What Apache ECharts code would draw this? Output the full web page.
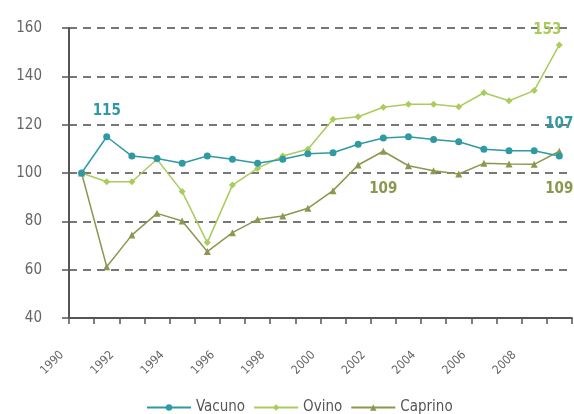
<!DOCTYPE html>
<html lang="es">
  <head>
    <meta charset="UTF-8" />
    <title>Vacuno, Ovino, Caprino</title>
    <style>
      html,
      body {
        margin: 0;
        background: #fff;
      }
      #main {
        width: 574px;
        height: 414px;
      }
    </style>
  </head>
  <body>
    <div id="main"></div>
    <script src="https://cdn.jsdelivr.net/npm/echarts@6/dist/echarts.min.js"></script>
    <script>
      // datos (indice 1990 = 100)
      const years = [
        "1990", "1991", "1992", "1993", "1994", "1995", "1996", "1997", "1998", "1999",
        "2000", "2001", "2002", "2003", "2004", "2005", "2006", "2007", "2008", "2009",
      ];
      const tickYears = ["1990", "1992", "1994", "1996", "1998", "2000", "2002", "2004", "2006", "2008"];
      const vacuno = [100, 115, 107, 106, 104, 107, 105.7, 104, 105.7, 108, 108.4, 111.9, 114.5, 115, 113.9, 112.9, 109.8, 109.2, 109.2, 107];
      const ovino = [100, 96.4, 96.4, 105.7, 92.3, 71.2, 95, 101.9, 107, 109.8, 122.2, 123.3, 127.2, 128.4, 128.4, 127.4, 133.2, 129.9, 134.1, 153];
      const caprino = [100, 61.2, 74.3, 83.3, 80.1, 67.5, 75.3, 80.8, 82.2, 85.4, 92.7, 103.3, 109, 103, 100.9, 99.6, 104, 103.7, 103.6, 109];

      const font = "'Liberation Sans Narrow', 'DejaVu Sans Condensed', 'Liberation Sans', sans-serif";
      const cVac = "#2f9aa3";
      const cOvi = "#a9cc5c";
      const cCap = "#8d974f";

      // etiquetas de valor en algunos puntos
      const withLabels = (values, color, marks) =>
        values.map((v, i) => {
          if (!marks[i]) return v;
          return {
            value: v,
            label: Object.assign(
              {
                show: true,
                formatter: "{c}",
                color: color,
                fontSize: 15,
                fontWeight: "bold",
                fontFamily: font,
              },
              marks[i]
            ),
          };
        });

      const chart = echarts.init(document.getElementById("main"));
      const option = {
        animation: false,
        textStyle: { fontFamily: font },
        grid: { left: 69, top: 28, width: 509, height: 290 },
        legend: {
          left: 141,
          top: 395,
          itemWidth: 44,
          itemHeight: 8,
          itemGap: 8,
          textStyle: { color: "#555", fontSize: 15, fontFamily: font },
          data: ["Vacuno", "Ovino", "Caprino"],
        },
        xAxis: [
          {
            type: "category",
            data: years,
            boundaryGap: true,
            axisLine: { lineStyle: { color: "#555", width: 2 } },
            axisTick: { inside: true, length: 6, lineStyle: { color: "#555", width: 1.5 } },
            axisLabel: { show: false },
          },
          {
            // eje solo para las marcas y etiquetas de los anos
            type: "category",
            position: "bottom",
            data: years.concat([""]),
            boundaryGap: false,
            axisLine: { show: false },
            axisTick: { length: 6, interval: 0, lineStyle: { color: "#555", width: 1.5 } },
            axisLabel: {
              interval: 0,
              rotate: 45,
              margin: 28,
              padding: [0, 10, 0, 0],
              fontSize: 12,
              color: "#666",
              formatter: (v) => (tickYears.includes(v) ? v : ""),
            },
          },
        ],
        yAxis: {
          type: "value",
          min: 40,
          max: 160,
          interval: 20,
          axisLine: { show: true, lineStyle: { color: "#555", width: 2 } },
          axisTick: { show: true, length: 7, lineStyle: { color: "#555", width: 1.5 } },
          axisLabel: { margin: 27, fontSize: 15, color: "#666" },
          splitLine: {
            lineStyle: { color: "#777", width: 2, type: [8, 6] },
          },
        },
        series: [
          {
            name: "Vacuno",
            type: "line",
            data: withLabels(vacuno, cVac, {
              1: { position: "top", distance: 15 },
              19: { position: "top", distance: 21 },
            }),
            symbol: "circle",
            symbolSize: 7,
            lineStyle: { color: cVac, width: 1.5 },
            itemStyle: { color: cVac },
            z: 3,
          },
          {
            name: "Ovino",
            type: "line",
            data: withLabels(ovino, cOvi, {
              19: { position: "top", distance: 4, offset: [-12, 0] },
            }),
            symbol: "diamond",
            symbolSize: 7,
            lineStyle: { color: cOvi, width: 1.5 },
            itemStyle: { color: cOvi },
            z: 2,
          },
          {
            name: "Caprino",
            type: "line",
            data: withLabels(caprino, cCap, {
              12: { position: "bottom", distance: 27 },
              19: { position: "bottom", distance: 27 },
            }),
            symbol: "triangle",
            symbolSize: 7,
            lineStyle: { color: cCap, width: 1.5 },
            itemStyle: { color: cCap },
            z: 2,
          },
        ],
      };
      chart.setOption(option);
    </script>
  </body>
</html>
